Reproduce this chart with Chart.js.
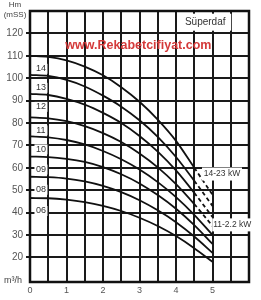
<!DOCTYPE html>
<html><head><meta charset="utf-8">
<script src="https://cdn.jsdelivr.net/npm/chart.js@4/dist/chart.umd.min.js"></script>
<style>html,body{margin:0;padding:0;background:#fff}</style>
</head><body>
<canvas id="c" width="261" height="300"></canvas>
<script>
// ---- data ----
const flows = [0, 0.5, 1, 1.5, 2, 2.5, 3, 3.5, 4, 4.5, 5];
const curveNames = ['14', '13', '12', '11', '10', '09', '08', '06'];
const h14 = [110, 109.5, 108, 105.2, 101.3, 96, 89.5, 81.5, 72, 60, 48];
const h13 = [101.5, 101, 99.2, 96.3, 92.2, 87.3, 81.2, 73.8, 64.8, 54.2, 43];
const h12 = [93, 92.5, 90.8, 88.2, 84.5, 80, 74.2, 67.2, 58.8, 48.8, 38];
const h11 = [82.5, 82.1, 80.8, 78.6, 75.5, 71.5, 66.4, 60.2, 52.7, 43.8, 34];
const h10 = [74, 73.6, 72.4, 70.4, 67.5, 63.8, 59.2, 53.6, 46.9, 39, 30];
const h09 = [65, 64.8, 64, 62.6, 60.3, 57.1, 53, 47.8, 41.7, 34.4, 26];
const h08 = [56, 55.8, 55.2, 53.9, 51.9, 49.1, 45.5, 41, 35.7, 29.3, 22];
const h06 = [46.5, 46.4, 45.8, 44.7, 43, 40.7, 37.7, 34, 29.5, 24.1, 18];
const dashedTail = ['14', '13', '12', '11'];
const xTicks = [0, 0.5, 1, 1.5, 2, 2.5, 3, 3.5, 4, 4.5, 5, 5.5, 6];
const xTickLabels = ['0', '', '1', '', '2', '', '3', '', '4', '', '5', '', ''];
const yTicks = [20, 30, 40, 50, 60, 70, 80, 90, 100, 110, 120];
const yTickLabels = ['20', '30', '40', '50', '60', '70', '80', '90', '100', '110', '120'];
const yTitle = ['Hm', '(mSS)'];
const xTitle = 'm³/h';
const brandText = 'Süperdaf';
const powerNotes = ['14-23 kW', '11-2.2 kW'];
const watermark = 'www.Rekabetcifiyat.com';

const series = [h14, h13, h12, h11, h10, h09, h08, h06];

const datasets = curveNames.map((name, i) => ({
  label: name,
  data: flows.map((q, k) => ({ x: q, y: series[i][k] })),
  borderColor: '#111',
  borderWidth: 1.8,
  pointRadius: 0,
  fill: false,
  cubicInterpolationMode: 'monotone',
  segment: {
    borderDash: c => (dashedTail.includes(name) && c.p0DataIndex >= 9) ? [4, 3] : undefined
  }
}));

const FONT = '"Liberation Sans", Arial, sans-serif';

const decor = {
  id: 'decor',
  afterDatasetsDraw(chart) {
    const { ctx, chartArea: a, scales: { x, y } } = chart;
    ctx.save();
    // frame
    ctx.strokeStyle = '#111';
    ctx.lineWidth = 2.5;
    ctx.strokeRect(a.left, a.top, a.right - a.left, a.bottom - a.top);

    function boxText(txt, cx, cy, font, w, h, color) {
      ctx.fillStyle = '#fff';
      ctx.fillRect(cx - w / 2, cy - h / 2, w, h);
      ctx.fillStyle = color;
      ctx.font = font;
      ctx.textAlign = 'center';
      ctx.textBaseline = 'middle';
      ctx.fillText(txt, cx, cy);
    }
    // curve labels
    curveNames.forEach((n, i) => {
      const px = x.getPixelForValue(0.3);
      const py = y.getPixelForValue(series[i][0]) + 13;
      boxText(n, px, py, '9px ' + FONT, 13, 10, '#333');
    });
    // brand box
    boxText(brandText, x.getPixelForValue(4.8), y.getPixelForValue(125), '10px ' + FONT, 52, 17, '#333');
    // power notes
    boxText(powerNotes[0], x.getPixelForValue(5.26), y.getPixelForValue(57.2), '8.5px ' + FONT, 40, 13, '#333');
    boxText(powerNotes[1], x.getPixelForValue(5.54), y.getPixelForValue(34.5), '8.5px ' + FONT, 40, 13, '#333');
    // watermark
    ctx.fillStyle = '#d43a3a';
    ctx.font = 'bold 12.5px ' + FONT;
    ctx.textAlign = 'center';
    ctx.textBaseline = 'middle';
    ctx.fillText(watermark, x.getPixelForValue(2.97), y.getPixelForValue(114.4));
    // axis titles
    ctx.fillStyle = '#444';
    ctx.font = '8px ' + FONT;
    ctx.fillText(yTitle[0], 15, 5);
    ctx.fillText(yTitle[1], 15, 15);
    ctx.font = '9px ' + FONT;
    ctx.fillText(xTitle, 13, a.bottom - 1);
    ctx.restore();
  }
};

new Chart(document.getElementById('c'), {
  type: 'line',
  data: { datasets },
  options: {
    responsive: false,
    animation: false,
    layout: { padding: { top: 11, right: 12, left: 0, bottom: 0 } },
    plugins: { legend: { display: false }, tooltip: { enabled: false } },
    scales: {
      x: {
        type: 'linear', min: 0, max: 6,
        afterBuildTicks: s => { s.ticks = xTicks.map(v => ({ value: v })); },
        afterFit: s => { s.height = 18; },
        ticks: { callback: (v, i) => xTickLabels[i], color: '#555', font: { size: 9, family: FONT }, padding: 3, maxRotation: 0, autoSkip: false },
        grid: { color: '#1a1a1a', lineWidth: 2, drawTicks: false },
        border: { display: false }
      },
      y: {
        type: 'linear', min: 9, max: 130,
        afterBuildTicks: s => { s.ticks = yTicks.map(v => ({ value: v })); },
        afterFit: s => { s.width = 30; },
        ticks: { callback: (v, i) => yTickLabels[i], color: '#555', font: { size: 10, family: FONT }, padding: 3, autoSkip: false },
        grid: { color: '#1a1a1a', lineWidth: 2, drawTicks: true, tickLength: 4 },
        border: { display: false }
      }
    }
  },
  plugins: [decor]
});
</script>
</body></html>
